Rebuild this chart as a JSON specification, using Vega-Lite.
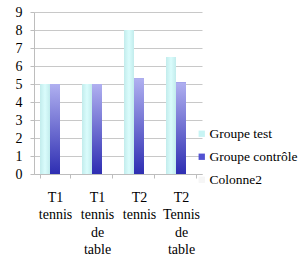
{
  "$schema": "https://vega.github.io/schema/vega-lite/v6.json",
  "autosize": "none",
  "width": 168,
  "height": 162,
  "padding": {"left": 34, "top": 12, "right": 100, "bottom": 84},
  "background": "white",
  "config": {
    "view": {"stroke": null},
    "font": "Liberation Serif",
    "axisX": {"labelFont": "Liberation Serif"},
    "axisY": {"labelFont": "Liberation Serif"},
    "axis": {
      "labelFontSize": 14,
      "labelColor": "black",
      "domainColor": "#bdbdbd",
      "tickColor": "#bdbdbd",
      "gridColor": "#c8c8c8",
      "title": null
    },
    "legend": {"labelFont": "Liberation Serif", "labelFontSize": 13.5, "labelColor": "black"}
  },
  "data": {
    "values": [
      {"cat": "T1 tennis", "series": "Groupe test", "value": 5},
      {"cat": "T1 tennis", "series": "Groupe contrôle", "value": 5},
      {"cat": "T1 tennis", "series": "Colonne2", "value": 0},
      {"cat": "T1 tennis de table", "series": "Groupe test", "value": 5},
      {"cat": "T1 tennis de table", "series": "Groupe contrôle", "value": 5},
      {"cat": "T1 tennis de table", "series": "Colonne2", "value": 0},
      {"cat": "T2 tennis", "series": "Groupe test", "value": 8},
      {"cat": "T2 tennis", "series": "Groupe contrôle", "value": 5.3},
      {"cat": "T2 tennis", "series": "Colonne2", "value": 0},
      {"cat": "T2 Tennis de table", "series": "Groupe test", "value": 6.5},
      {"cat": "T2 Tennis de table", "series": "Groupe contrôle", "value": 5.1},
      {"cat": "T2 Tennis de table", "series": "Colonne2", "value": 0}
    ]
  },
  "encoding": {
    "x": {
      "field": "cat",
      "type": "nominal",
      "sort": null,
      "scale": {"paddingInner": 0.286, "paddingOuter": 0.143},
      "axis": {
        "labelAngle": 0,
        "labelFont": "Liberation Serif",
        "labelExpr": "split(datum.label, ' ')",
        "labelLineHeight": 17.5,
        "labelBaseline": "top",
        "labelPadding": 12,
        "tickSize": 4,
        "tickBand": "extent",
        "grid": false
      }
    },
    "xOffset": {
      "field": "series",
      "type": "nominal",
      "scale": {"domain": ["Groupe test", "Groupe contrôle", "Colonne2"], "paddingInner": 0}
    },
    "y": {
      "field": "value",
      "type": "quantitative",
      "scale": {"domain": [0, 9], "nice": false},
      "axis": {"values": [0,1,2,3,4,5,6,7,8,9], "labelFont": "Liberation Serif", "tickSize": 4, "labelPadding": 8, "grid": true}
    }
  },
  "layer": [
    {
      "mark": {"type": "bar"},
      "encoding": {
        "color": {
          "field": "series",
          "type": "nominal",
          "scale": {"domain": ["Groupe test", "Groupe contrôle", "Colonne2"], "range": ["#c8f4f4", "#5252d2", "#f6f6f6"]},
          "legend": {
            "title": null,
            "orient": "none",
            "legendX": 161,
            "legendY": 115,
            "labelFont": "Liberation Serif",
            "symbolType": "square",
            "symbolSize": 40,
            "symbolStrokeWidth": 0,
            "rowPadding": 8,
            "labelOffset": 1
          }
        }
      }
    },
    {
      "transform": [{"filter": "datum.series == 'Groupe test'"}],
      "mark": {
        "type": "bar",
        "fill": {"gradient": "linear", "x1": 0, "y1": 0, "x2": 1, "y2": 0,
          "stops": [{"offset": 0, "color": "#c2ecec"}, {"offset": 0.5, "color": "#dafcfc"}, {"offset": 1, "color": "#c2ecec"}]}
      }
    },
    {
      "transform": [{"filter": "datum.series == 'Groupe contrôle'"}],
      "mark": {
        "type": "bar",
        "fill": {"gradient": "linear", "x1": 0, "y1": 0, "x2": 0, "y2": 1,
          "stops": [{"offset": 0, "color": "#b0b0f0"}, {"offset": 1, "color": "#2e2eb2"}]}
      }
    }
  ]
}
